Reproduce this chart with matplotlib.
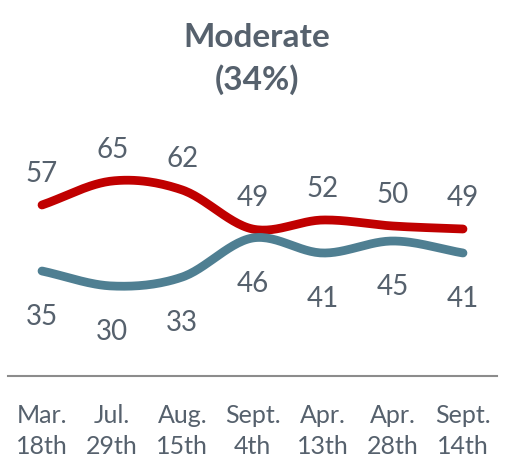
import numpy as np
import matplotlib
matplotlib.use("Agg")
import matplotlib.pyplot as plt

# poll dates and support shares
dates = ["Mar.\n18th", "Jul.\n29th", "Aug.\n15th", "Sept.\n4th",
         "Apr.\n13th", "Apr.\n28th", "Sept.\n14th"]
red_vals = [57, 65, 62, 49, 52, 50, 49]
blue_vals = [35, 30, 33, 46, 41, 45, 41]

RED = "#C00000"
BLUE = "#4F7F92"
TEXT = "#56616D"

plt.rcParams['font.family'] = ['Lato', 'DejaVu Sans']


def smooth(x, y, n=30):
    # Catmull-Rom curve through the points (like a spreadsheet "smoothed line")
    x = np.asarray(x, float)
    y = np.asarray(y, float)
    px = np.concatenate([[2 * x[0] - x[1]], x, [2 * x[-1] - x[-2]]])
    py = np.concatenate([[2 * y[0] - y[1]], y, [2 * y[-1] - y[-2]]])
    t = np.linspace(0, 1, n)
    xs, ys = [], []
    for i in range(1, len(px) - 2):
        for p, out in ((px, xs), (py, ys)):
            p0, p1, p2, p3 = p[i - 1], p[i], p[i + 1], p[i + 2]
            out.append(0.5 * ((2 * p1) + (-p0 + p2) * t
                              + (2 * p0 - 5 * p1 + 4 * p2 - p3) * t ** 2
                              + (-p0 + 3 * p1 - 3 * p2 + p3) * t ** 3))
    return np.concatenate(xs), np.concatenate(ys)


fig = plt.figure(figsize=(5.13, 4.76), dpi=100)
ax = fig.add_axes([0, 0, 1, 1])
ax.set_xlim(-0.5986, 6.7126)
ax.set_ylim(-33.33, 125.33)
ax.axis("off")

x = np.arange(len(dates))
for vals, col in ((red_vals, RED), (blue_vals, BLUE)):
    sx, sy = smooth(x, vals)
    ax.plot(sx, sy, color=col, lw=6.3, solid_capstyle="round", zorder=3)

for i in x:
    ax.annotate(str(red_vals[i]), (i, red_vals[i]), xytext=(0, 22),
                textcoords="offset points", ha="center", va="center",
                fontsize=20, color=TEXT)
    ax.annotate(str(blue_vals[i]), (i, blue_vals[i]), xytext=(0, -33),
                textcoords="offset points", ha="center", va="center",
                fontsize=20, color=TEXT)

# baseline and category labels
fig.add_artist(plt.Line2D([8 / 513, 497 / 513], [1 - 376 / 476] * 2,
                          color="#8C8C8C", lw=1.5))
for i, lab in enumerate(dates):
    ax.annotate(lab, (i, 0), xycoords=ax.get_xaxis_transform(),
                xytext=(0, 1 - 431 / 476), textcoords=("offset points", "figure fraction"),
                ha="center", va="center", fontsize=18, color=TEXT,
                linespacing=1.4)

fig.text(0.5, 1 - 38 / 476, "Moderate", ha="center", va="center",
         fontsize=24, fontweight="bold", color=TEXT)
fig.text(0.5, 1 - 80 / 476, "(34%)", ha="center", va="center",
         fontsize=24, fontweight="bold", color=TEXT)

fig.savefig("out.png", dpi=100)
